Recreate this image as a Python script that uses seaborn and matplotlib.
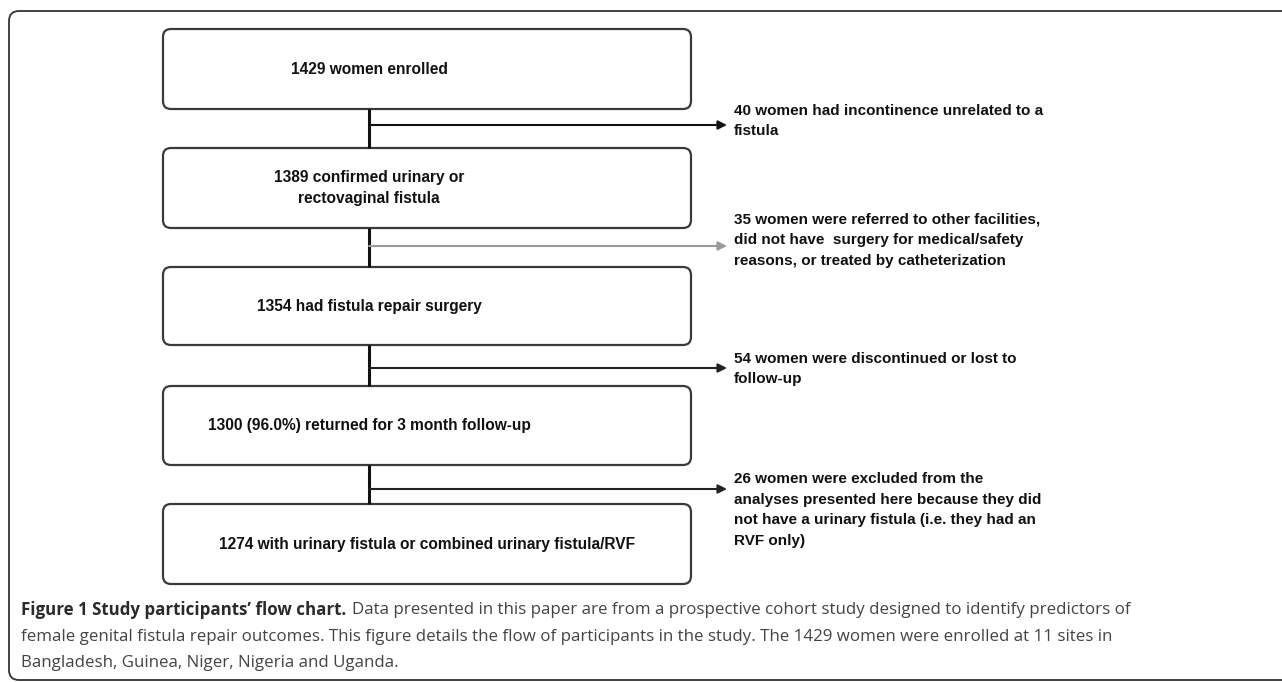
import matplotlib
matplotlib.use('Agg')
import matplotlib.pyplot as plt
from matplotlib.patches import FancyBboxPatch
import seaborn as sns

# flow chart content
box_labels = [
    '1429 women enrolled',
    '1389 confirmed urinary or\nrectovaginal fistula',
    '1354 had fistula repair surgery',
    '1300 (96.0%) returned for 3 month follow-up',
    '1274 with urinary fistula or combined urinary fistula/RVF',
]
exclusion_labels = [
    '40 women had incontinence unrelated to a\nfistula',
    '35 women were referred to other facilities,\ndid not have  surgery for medical/safety\nreasons, or treated by catheterization',
    '54 women were discontinued or lost to\nfollow-up',
    '26 women were excluded from the\nanalyses presented here because they did\nnot have a urinary fistula (i.e. they had an\nRVF only)',
]
arrow_colors = ['#111111', '#9a9a9a', '#222222', '#222222']

caption_bold = 'Figure 1 Study participants\u2019 flow chart.'
caption_lines = [
    'Data presented in this paper are from a prospective cohort study designed to identify predictors of',
    'female genital fistula repair outcomes. This figure details the flow of participants in the study. The 1429 women were enrolled at 11 sites in',
    'Bangladesh, Guinea, Niger, Nigeria and Uganda.',
]

# layout (pixel space)
box_top = [29, 148, 267, 386, 504]
box_bottom = [109, 228, 345, 465, 584]
box_left, box_right = 163, 691
text_x = [369, 369, 369, 369, 427]
stem_x = 369
arrow_y = [125, 246, 368, 489]
arrow_end = 727
excl_x = 734
excl_mid = [121, 240, 369, 510]
cap_y = [610, 637, 663]

sns.set_style('white')
plt.rcParams['font.family'] = ['Liberation Sans Narrow', 'Liberation Sans', 'DejaVu Sans']

fig = plt.figure(figsize=(12.82, 6.82), dpi=100)
ax = fig.add_axes([0, 0, 1, 1])
ax.set_xlim(0, 1282)
ax.set_ylim(682, 0)
ax.axis('off')

# outer frame
frame = FancyBboxPatch((9, 11), 1400, 669, boxstyle='round,pad=0,rounding_size=10',
                       fc='none', ec='#333333', lw=1.3)
ax.add_patch(frame)

# boxes
for lbl, t, b, tx in zip(box_labels, box_top, box_bottom, text_x):
    p = FancyBboxPatch((box_left, t), box_right - box_left, b - t,
                       boxstyle='round,pad=0,rounding_size=8',
                       fc='white', ec='#3a3a3a', lw=1.6)
    ax.add_patch(p)
    ax.text(tx, (t + b) / 2, lbl, ha='center', va='center', fontsize=11.2,
            fontweight='bold', color='#111111', linespacing=1.5)

# connectors
for i in range(len(box_labels) - 1):
    ax.plot([stem_x, stem_x], [box_bottom[i], box_top[i + 1]], color='#111111', lw=2.2,
            solid_capstyle='butt')
    ax.annotate('', xy=(arrow_end, arrow_y[i]), xytext=(stem_x, arrow_y[i]),
                arrowprops=dict(arrowstyle='-|>', color=arrow_colors[i], lw=1.5,
                                mutation_scale=13, shrinkA=0, shrinkB=0))
    ax.text(excl_x, excl_mid[i], exclusion_labels[i], ha='left', va='center', fontsize=11,
            fontweight='bold', color='#111111', linespacing=1.6)

# caption
cap_font = ['Open Sans', 'DejaVu Sans']
tb = ax.text(21, cap_y[0], caption_bold, ha='left', va='center',
             fontsize=12.2, fontweight='bold', color='#2a2a2a', family=cap_font)
fig.canvas.draw()
bb = tb.get_window_extent(renderer=fig.canvas.get_renderer())
ax.text(bb.x1 + 6, cap_y[0], caption_lines[0], ha='left', va='center',
        fontsize=12.2, color='#444444', family=cap_font)
for y, line in zip(cap_y[1:], caption_lines[1:]):
    ax.text(21, y, line, ha='left', va='center', fontsize=12.2, color='#444444', family=cap_font)

fig.savefig('out.png', dpi=100)
